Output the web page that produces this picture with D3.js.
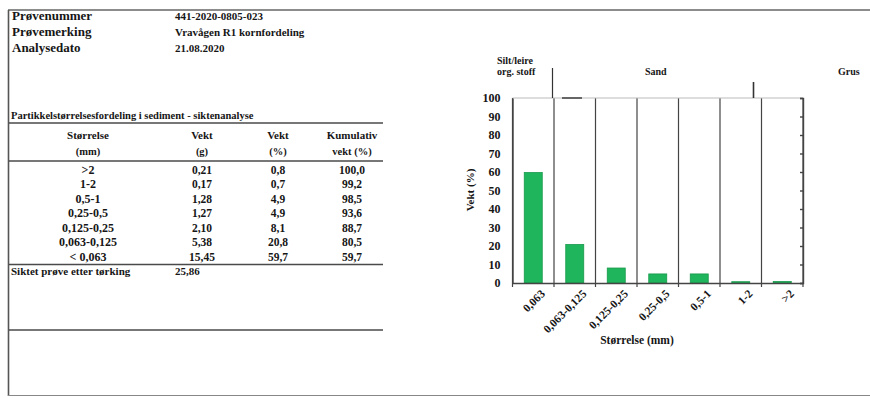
<!DOCTYPE html>
<html><head><meta charset="utf-8">
<script src="https://cdn.jsdelivr.net/npm/d3@7"></script>
<style>
body{margin:0;background:#fff;}
svg{display:block;}
text{font-family:"Liberation Serif","DejaVu Serif",serif;font-weight:bold;fill:#161616;}
</style></head><body>
<svg id="c" width="870" height="398"></svg>
<script>
// ---- data ----
const headerLabels = ["Prøvenummer", "Prøvemerking", "Analysedato"];
const headerValues = ["441-2020-0805-023", "Vravågen R1 kornfordeling", "21.08.2020"];
const tableTitle = "Partikkelstørrelsesfordeling i sediment - siktenanalyse";
const sizeClasses = [">2", "1-2", "0,5-1", "0,25-0,5", "0,125-0,25", "0,063-0,125", "< 0,063"];
const weightG = ["0,21", "0,17", "1,28", "1,27", "2,10", "5,38", "15,45"];
const weightPct = [0.8, 0.7, 4.9, 4.9, 8.1, 20.8, 59.7];
const cumulativePct = [100.0, 99.2, 98.5, 93.6, 88.7, 80.5, 59.7];
const sievedLabel = "Siktet prøve etter tørking";
const sievedValue = "25,86";
const chartCategories = ["0,063", "0,063-0,125", "0,125-0,25", "0,25-0,5", "0,5-1", "1-2", ">2"];
const chartValues = [59.7, 20.8, 8.1, 4.9, 4.9, 0.7, 0.8];
const yTicks = [0, 10, 20, 30, 40, 50, 60, 70, 80, 90, 100];

(function () {
const fmt1 = v => v.toFixed(1).replace(".", ",");
const svg = d3.select("#c");
const lineCol = "#4a4a4a";

// page border
svg.append("line").attr("x1", 8).attr("x2", 870).attr("y1", 10).attr("y2", 10).attr("stroke", "#666").attr("stroke-width", 1.6);
svg.append("line").attr("x1", 8.5).attr("x2", 8.5).attr("y1", 10).attr("y2", 396).attr("stroke", "#555").attr("stroke-width", 1.6);
svg.append("line").attr("x1", 8).attr("x2", 870).attr("y1", 395.5).attr("y2", 395.5).attr("stroke", "#888").attr("stroke-width", 1.2);

// header block
headerLabels.forEach((t, i) => {
  svg.append("text").attr("x", 12).attr("y", 20 + i * 16).attr("font-size", 13).text(t);
  svg.append("text").attr("x", 175).attr("y", 20 + i * 16).attr("font-size", 11).text(headerValues[i]);
});

// table
svg.append("text").attr("x", 11).attr("y", 119).attr("font-size", 10.5).text(tableTitle);
const hl = (yy, w) => svg.append("line").attr("x1", 9).attr("x2", 383).attr("y1", yy).attr("y2", yy).attr("stroke", lineCol).attr("stroke-width", w || 1.5);
hl(123); hl(161); hl(264.5); hl(330);
const colX = [88, 202, 278, 352];
const head1 = ["Størrelse", "Vekt", "Vekt", "Kumulativ"];
const head2 = ["(mm)", "(g)", "(%)", "vekt (%)"];
head1.forEach((t, i) => svg.append("text").attr("x", colX[i]).attr("y", 139).attr("text-anchor", "middle").attr("font-size", 11).text(t));
head2.forEach((t, i) => svg.append("text").attr("x", colX[i]).attr("y", 155).attr("text-anchor", "middle").attr("font-size", 10.5).text(t));
sizeClasses.forEach((s, i) => {
  const yy = 173.5 + i * 14.5;
  svg.append("text").attr("x", colX[0]).attr("y", yy).attr("text-anchor", "middle").attr("font-size", 12).text(s);
  svg.append("text").attr("x", colX[1]).attr("y", yy).attr("text-anchor", "middle").attr("font-size", 11.5).text(weightG[i]);
  svg.append("text").attr("x", colX[2]).attr("y", yy).attr("text-anchor", "middle").attr("font-size", 11.5).text(fmt1(weightPct[i]));
  svg.append("text").attr("x", colX[3]).attr("y", yy).attr("text-anchor", "middle").attr("font-size", 11.5).text(fmt1(cumulativePct[i]));
});
svg.append("text").attr("x", 11).attr("y", 275).attr("font-size", 11).text(sievedLabel);
svg.append("text").attr("x", 175).attr("y", 275).attr("font-size", 11).text(sievedValue);

// chart
const pLeft = 512.5, pRight = 803, pTop = 98, pBottom = 283;
const x = d3.scaleBand().domain(chartCategories).range([pLeft, pRight]).paddingInner(0).paddingOuter(0);
const y = d3.scaleLinear().domain([0, 100]).range([pBottom, pTop]);
const g = svg.append("g");

// band separators
const bounds = chartCategories.map(c => x(c)).concat([pRight]);
g.selectAll("line.sep").data(bounds).enter().append("line")
  .attr("x1", d => d).attr("x2", d => d).attr("y1", pTop).attr("y2", pBottom + 4)
  .attr("stroke", "#444").attr("stroke-width", 1.2);
g.append("line").attr("x1", pLeft).attr("x2", pRight).attr("y1", pTop).attr("y2", pTop).attr("stroke", "#bbb").attr("stroke-width", 1);
g.append("line").attr("x1", 562).attr("x2", 582).attr("y1", pTop).attr("y2", pTop).attr("stroke", "#333").attr("stroke-width", 1.4);

// bars
g.selectAll("rect.bar").data(chartValues).enter().append("rect")
  .attr("x", (d, i) => x(chartCategories[i]) + x.bandwidth() / 2 - 9)
  .attr("width", 18)
  .attr("y", d => y(d))
  .attr("height", d => pBottom - y(d))
  .attr("fill", "#1fb55c").attr("stroke", "#179a4b").attr("stroke-width", 0.8);

// left axis
const yAxis = d3.axisLeft(y).tickValues(yTicks).tickSize(0).tickPadding(12);
const ya = svg.append("g").attr("transform", `translate(${pLeft},0)`).call(yAxis);
ya.select(".domain").attr("stroke", "#444").attr("stroke-width", 1.4);
ya.selectAll("text").attr("font-size", 12).attr("font-family", "Liberation Serif").attr("font-weight", "bold").attr("fill", "#111");

// right axis with inner ticks
const yR = d3.axisLeft(y).tickValues(yTicks).tickSize(3).tickFormat("");
const yr = svg.append("g").attr("transform", `translate(${pRight},0)`).call(yR);
yr.select(".domain").attr("stroke", "#444").attr("stroke-width", 1.4);
yr.selectAll("line").attr("stroke", "#444").attr("stroke-width", 1.4);

// bottom axis
const xAxis = d3.axisBottom(x).tickSize(0).tickPadding(8);
const xa = svg.append("g").attr("transform", `translate(0,${pBottom})`).call(xAxis);
xa.select(".domain").attr("stroke", "#444").attr("stroke-width", 1.6);
xa.selectAll("text").attr("font-size", 11.5).attr("font-family", "Liberation Serif").attr("font-weight", "bold").attr("fill", "#111")
  .attr("text-anchor", "end").attr("dy", "0.35em").attr("transform", "translate(4,3) rotate(-45)");

// axis titles
svg.append("text").attr("transform", "translate(474,190) rotate(-90)").attr("text-anchor", "middle").attr("font-size", 11).text("Vekt (%)");
svg.append("text").attr("x", 637).attr("y", 344).attr("text-anchor", "middle").attr("font-size", 11.5).text("Størrelse (mm)");

// fraction labels
svg.append("text").attr("x", 497).attr("y", 64).attr("font-size", 10).text("Silt/leire");
svg.append("text").attr("x", 497).attr("y", 75).attr("font-size", 10).text("org. stoff");
svg.append("text").attr("x", 645).attr("y", 75).attr("font-size", 10).text("Sand");
svg.append("text").attr("x", 838).attr("y", 75).attr("font-size", 10).text("Grus");
svg.append("line").attr("x1", 552.5).attr("x2", 552.5).attr("y1", 68).attr("y2", pTop).attr("stroke", "#333").attr("stroke-width", 1.2);
svg.append("line").attr("x1", 753.5).attr("x2", 753.5).attr("y1", 82).attr("y2", pTop).attr("stroke", "#333").attr("stroke-width", 1.6);
})();
</script>
</body></html>
